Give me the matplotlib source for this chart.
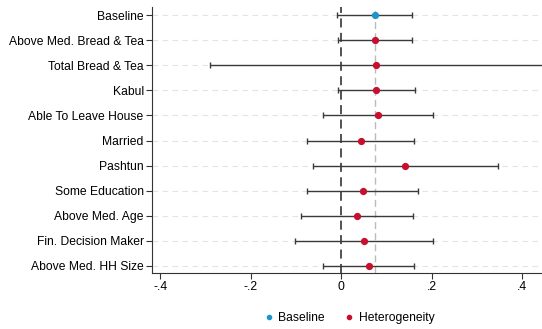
import matplotlib
matplotlib.use("Agg")
import matplotlib.pyplot as plt

plt.rcParams['font.family'] = ['Liberation Sans', 'DejaVu Sans']

labels = ["Baseline", "Above Med. Bread & Tea", "Total Bread & Tea", "Kabul",
          "Able To Leave House", "Married", "Pashtun", "Some Education",
          "Above Med. Age", "Fin. Decision Maker", "Above Med. HH Size"]
coef = [0.074, 0.074, 0.078, 0.078, 0.081, 0.043, 0.141, 0.048, 0.035, 0.051, 0.061]
ci_lo = [-0.008, -0.007, -0.290, -0.007, -0.040, -0.075, -0.063, -0.075, -0.088, -0.101, -0.039]
ci_hi = [0.157, 0.156, 0.480, 0.163, 0.202, 0.160, 0.347, 0.170, 0.159, 0.202, 0.162]
xticks = [-0.4, -0.2, 0, 0.2, 0.4]
xticklabels = ["-.4", "-.2", "0", ".2", ".4"]

blue = "#1a96cc"
red = "#c8102e"

fig = plt.figure(figsize=(5.42, 3.29), dpi=100)
ax = fig.add_axes([152 / 542, 1 - 273 / 329, 1 - 152 / 542, (273 - 7) / 329])

ys = list(range(1, len(labels) + 1))
for y in ys:
    ax.axhline(y, color="#e3e3e3", lw=0.8, ls=(0, (5, 4)), zorder=0)

ax.axvline(0, color="#444444", lw=1.3, ls=(0, (5, 3)), zorder=1)
ax.axvline(coef[0], color="#bbbbbb", lw=1.0, ls=(0, (5, 3)), zorder=1)

for i, y in enumerate(ys):
    ax.errorbar(coef[i], y, xerr=[[coef[i] - ci_lo[i]], [ci_hi[i] - coef[i]]],
                fmt="none", ecolor="#3a3a3a", elinewidth=1.0, capsize=2.5,
                capthick=1.0, zorder=2)
    c = blue if i == 0 else red
    ax.plot(coef[i], y, "o", color=c, ms=4.2, zorder=3)

ax.set_xlim(-0.418, 0.444)
ax.set_ylim(11.28, 0.68)
ax.set_yticks(ys)
ax.set_yticklabels(labels, fontsize=8.7)
ax.set_xticks(xticks)
ax.set_xticklabels(xticklabels, fontsize=8.7)
ax.tick_params(axis="both", length=4, width=0.8, color="#333333", pad=2)
ax.spines["top"].set_visible(False)
ax.spines["right"].set_visible(False)
for s in ["left", "bottom"]:
    ax.spines[s].set_color("#333333")
    ax.spines[s].set_linewidth(0.8)

hb, = ax.plot([], [], "o", color=blue, ms=3, label="Baseline")
hh, = ax.plot([], [], "o", color=red, ms=3, label="Heterogeneity")
fig.legend(handles=[hb, hh], loc="center", bbox_to_anchor=(0.643, 1 - 318 / 329),
           ncol=2, frameon=False, fontsize=8.7, handlelength=1.0,
           handletextpad=0.3, columnspacing=1.5)

fig.savefig("out.png", dpi=100)
